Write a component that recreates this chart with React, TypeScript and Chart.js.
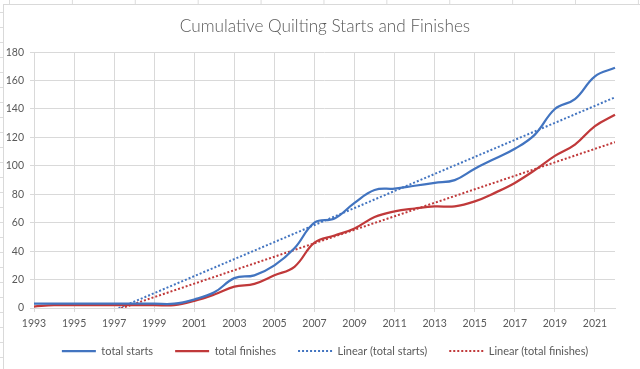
import React, { useEffect, useRef } from "react";
import { Chart, registerables } from "chart.js";

Chart.register(...registerables);

const years = [
  "1993", "1994", "1995", "1996", "1997", "1998", "1999", "2000", "2001", "2002",
  "2003", "2004", "2005", "2006", "2007", "2008", "2009", "2010", "2011", "2012",
  "2013", "2014", "2015", "2016", "2017", "2018", "2019", "2020", "2021", "2022",
];

const totalStarts = [
  3, 3, 3, 3, 3, 3, 3, 3, 6, 11,
  21, 23, 30, 42, 60, 63, 74, 83, 84, 86,
  88, 90, 98, 105, 112, 122, 140, 147, 163, 169,
];

const totalFinishes = [
  1, 2, 2, 2, 2, 2, 2, 2, 5, 9.5,
  15, 17, 23, 29, 46, 51, 56, 64, 68, 70,
  71.5, 71.5, 75, 81, 88, 97, 107, 115, 128, 136,
];

const yTicks = [0, 20, 40, 60, 80, 100, 120, 140, 160, 180];

const titleText = "Cumulative Quilting Starts and Finishes";
const seriesNames = ["total starts", "total finishes", "Linear (total starts)", "Linear (total finishes)"];

// least-squares linear trendline (as Excel's "Linear" trendline)
function linearTrend(values: number[]): number[] {
  const n = values.length;
  let sx = 0, sy = 0, sxy = 0, sxx = 0;
  values.forEach((v, i) => {
    sx += i; sy += v; sxy += i * v; sxx += i * i;
  });
  const slope = (n * sxy - sx * sy) / (n * sxx - sx * sx);
  const intercept = (sy - slope * sx) / n;
  return values.map((_, i) => intercept + slope * i);
}

const BLUE = "#4274C0";
const RED = "#C0393A";
const GRID = "#D9D9D9";
const TEXT = "#595959";
const FONT = "Lato, 'Noto Sans', sans-serif";

// moves the legend up closer to the axis labels (Excel-like spacing)
const legendShift = {
  id: "legendShift",
  afterLayout(chart: any) {
    const l = chart.legend;
    if (l) {
      l.top -= 6.5;
      l.bottom -= 6.5;
    }
  },
};

export default function App() {
  const ref = useRef<HTMLCanvasElement | null>(null);

  useEffect(() => {
    if (!ref.current) return;
    const chart = new Chart(ref.current, {
      type: "line",
      data: {
        labels: years,
        datasets: [
          {
            label: seriesNames[0],
            data: totalStarts,
            borderColor: BLUE,
            backgroundColor: BLUE,
            borderWidth: 2.25,
            pointRadius: 0,
            tension: 0.4,
          },
          {
            label: seriesNames[1],
            data: totalFinishes,
            borderColor: RED,
            backgroundColor: RED,
            borderWidth: 2.25,
            pointRadius: 0,
            tension: 0.4,
          },
          {
            label: seriesNames[2],
            data: linearTrend(totalStarts),
            borderColor: BLUE,
            backgroundColor: BLUE,
            borderWidth: 2,
            borderDash: [2, 2],
            pointRadius: 0,
            tension: 0,
            clip: 0,
          },
          {
            label: seriesNames[3],
            data: linearTrend(totalFinishes),
            borderColor: RED,
            backgroundColor: RED,
            borderWidth: 2,
            borderDash: [2, 2],
            pointRadius: 0,
            tension: 0,
            clip: 0,
          },
        ],
      },
      options: {
        animation: false,
        responsive: true,
        maintainAspectRatio: false,
        layout: { padding: { left: 0, right: 0, top: 0, bottom: 0 } },
        plugins: {
          title: {
            display: true,
            text: titleText,
            color: TEXT,
            font: { family: FONT, size: 17.2, weight: "300" as any },
            padding: { top: 11.5, bottom: 15 },
          },
          legend: {
            position: "bottom",
            labels: {
              usePointStyle: true,
              pointStyle: "line",
              pointStyleWidth: 34,
              color: TEXT,
              font: { family: FONT, size: 11 },
              padding: 22,
              generateLabels: (c: any) => {
                const items = Chart.defaults.plugins.legend.labels.generateLabels(c);
                return items.map((it: any) => {
                  const ds: any = c.data.datasets[it.datasetIndex];
                  return {
                    ...it,
                    lineDash: ds.borderDash || [],
                    lineWidth: ds.borderWidth,
                    strokeStyle: ds.borderColor,
                    lineCap: "butt",
                  };
                });
              },
            },
          },
          tooltip: { enabled: false },
        },
        scales: {
          x: {
            type: "category",
            offset: false,
            grid: {
              color: (c: any) => (c.index % 2 === 0 ? GRID : "rgba(0,0,0,0)"),
              tickLength: 4,
              lineWidth: 1,
            },
            border: { color: GRID },
            ticks: {
              autoSkip: false,
              maxRotation: 0,
              color: TEXT,
              font: { family: FONT, size: 10.5 },
              padding: 5,
              callback: (_v: any, i: number) => (i % 2 === 0 ? years[i] : ""),
            },
            afterFit: (s: any) => {
              s.height = 22;
            },
          },
          y: {
            min: 0,
            max: 180,
            afterBuildTicks: (s: any) => {
              s.ticks = yTicks.map((v) => ({ value: v }));
            },
            grid: { color: GRID, tickLength: 4, lineWidth: 1 },
            border: { display: false },
            ticks: {
              color: TEXT,
              font: { family: FONT, size: 10.5 },
              padding: 6,
            },
            afterFit: (s: any) => {
              s.width = 30;
            },
          },
          y2: {
            position: "right",
            display: true,
            grid: { display: false, drawOnChartArea: false },
            border: { display: false },
            ticks: { display: false },
            afterFit: (s: any) => {
              s.width = 31;
            },
          },
        },
      },
      plugins: [legendShift],
    });
    return () => chart.destroy();
  }, []);

  return (
    <div
      style={{
        position: "absolute",
        left: 0,
        top: 0,
        width: 640,
        height: 369,
        overflow: "hidden",
        backgroundColor: "#ffffff",
        backgroundImage:
          "linear-gradient(to right, #dcdcdc 1px, transparent 1px), linear-gradient(to bottom, #dcdcdc 1px, transparent 1px)",
        backgroundSize: "62.9px 15px",
        backgroundPosition: "9px 12px",
      }}
    >
      <div
        style={{
          position: "absolute",
          left: 3,
          top: 4,
          width: 660,
          height: 380,
          border: "1px solid #D9D9D9",
          background: "#ffffff",
        }}
      >
        <div style={{ position: "relative", width: 642, height: 368 }}>
          <canvas ref={ref} />
        </div>
      </div>
    </div>
  );
}
